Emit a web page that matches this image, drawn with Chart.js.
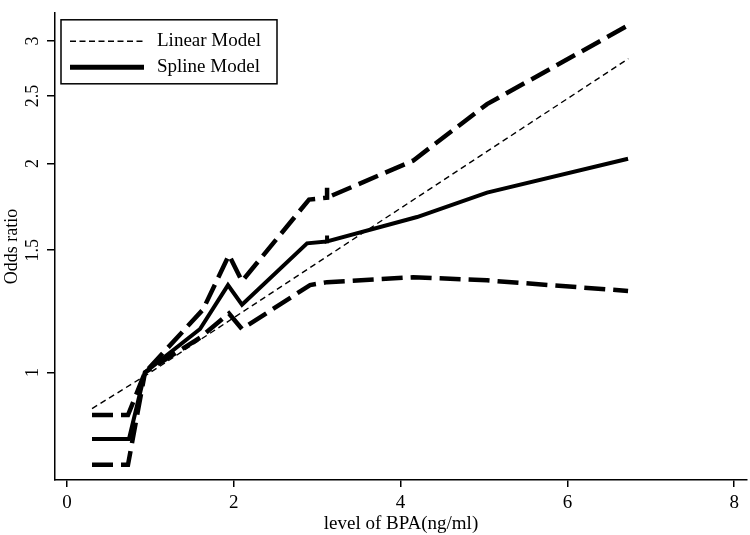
<!DOCTYPE html>
<html>
<head>
<meta charset="utf-8">
<script src="https://cdn.jsdelivr.net/npm/chart.js@4/dist/chart.umd.min.js"></script>
<style>
  html, body { margin: 0; padding: 0; background: #fff; }
  #wrap { width: 750px; height: 535px; position: relative; }
</style>
</head>
<body>
<div id="wrap"><canvas id="c" width="750" height="535"></canvas></div>
<script>
// ---- data ----
const xTicks = [0, 2, 4, 6, 8];
const yTicks = [1, 1.5, 2, 2.5, 3];

const linearX  = [0.30, 1.00, 6.73];
const linearOR = [0.887, 1.000, 2.83];

const splineX  = [0.30, 0.743, 0.935, 1.595, 1.930, 2.098, 2.878, 3.118, 3.118, 3.118, 4.197, 5.036, 6.727];
const splineOR = [0.802, 0.802, 1.000, 1.155, 1.336, 1.252, 1.534, 1.544, 1.574, 1.544, 1.674, 1.815, 2.031];

const upperX   = [0.30, 0.731, 0.935, 1.631, 1.942, 2.098, 2.902, 3.118, 3.118, 3.118, 4.149, 5.036, 6.727];
const upperOR  = [0.868, 0.868, 1.000, 1.232, 1.476, 1.353, 1.774, 1.785, 1.844, 1.785, 2.018, 2.434, 3.160];

const lowerX   = [0.30, 0.731, 0.935, 1.595, 1.942, 2.098, 2.914, 3.118, 4.149, 5.036, 6.727];
const lowerOR  = [0.736, 0.736, 1.000, 1.122, 1.216, 1.155, 1.336, 1.349, 1.371, 1.357, 1.310];

const legendLabels = ['Linear Model', 'Spline Model'];
const xTitle = 'level of BPA(ng/ml)';
const yTitle = 'Odds ratio';

const pts = (xs, ys) => xs.map((x, i) => ({ x: x, y: ys[i] }));
const SERIF = "'Liberation Serif', 'Times New Roman', serif";

const legendPlugin = {
  id: 'insideLegend',
  afterDraw(chart) {
    const { ctx, chartArea } = chart;
    const L = chartArea.left + 6, T = chartArea.top + 7, W = 216, H = 64;
    ctx.save();
    ctx.strokeStyle = '#000';
    ctx.lineWidth = 1.5;
    ctx.setLineDash([]);
    ctx.strokeRect(L, T, W, H);
    // sample 1: linear (thin dashed)
    ctx.beginPath();
    ctx.setLineDash([6, 3.5]);
    ctx.lineWidth = 1.4;
    ctx.moveTo(L + 9, T + 21.5);
    ctx.lineTo(L + 83, T + 21.5);
    ctx.stroke();
    // sample 2: spline (thick solid)
    ctx.beginPath();
    ctx.setLineDash([]);
    ctx.lineWidth = 5;
    ctx.moveTo(L + 9, T + 47.5);
    ctx.lineTo(L + 83, T + 47.5);
    ctx.stroke();
    ctx.fillStyle = '#000';
    ctx.font = '19px ' + SERIF;
    ctx.textBaseline = 'middle';
    ctx.textAlign = 'left';
    ctx.fillText(legendLabels[0], L + 96, T + 21.5);
    ctx.fillText(legendLabels[1], L + 96, T + 47.5);
    ctx.restore();
  }
};

new Chart(document.getElementById('c'), {
  type: 'line',
  data: {
    datasets: [
      { label: 'Upper CI', data: pts(upperX, upperOR), borderColor: '#000', borderWidth: 4.5, borderDash: [21, 8], pointRadius: 0, fill: false, tension: 0 },
      { label: 'Lower CI', data: pts(lowerX, lowerOR), borderColor: '#000', borderWidth: 4.5, borderDash: [21, 8], pointRadius: 0, fill: false, tension: 0 },
      { label: legendLabels[1], data: pts(splineX, splineOR), borderColor: '#000', borderWidth: 4, pointRadius: 0, fill: false, tension: 0 },
      { label: legendLabels[0], data: pts(linearX, linearOR), borderColor: '#000', borderWidth: 1.4, borderDash: [6, 4], pointRadius: 0, fill: false, tension: 0 }
    ]
  },
  options: {
    responsive: false,
    animation: false,
    devicePixelRatio: 1,
    layout: { padding: { top: 3, right: 3, left: 0, bottom: 0 } },
    plugins: { legend: { display: false }, tooltip: { enabled: false } },
    scales: {
      x: {
        type: 'linear',
        min: -0.144, max: 8.153,
        afterBuildTicks: s => { s.ticks = xTicks.map(v => ({ value: v })); },
        afterFit: s => { s.height = 55; },
        grid: { drawOnChartArea: false, drawTicks: true, tickLength: 7, color: '#000', lineWidth: 1.5 },
        border: { display: true, color: '#000', width: 1.5 },
        ticks: { color: '#000', font: { family: SERIF, size: 19 }, padding: 5, maxRotation: 0, callback: v => String(v) },
        title: { display: true, text: xTitle, color: '#000', font: { family: SERIF, size: 19 }, padding: { top: 0, bottom: 0 } }
      },
      y: {
        type: 'logarithmic',
        min: 0.7075, max: 3.295,
        afterBuildTicks: s => { s.ticks = yTicks.map(v => ({ value: v })); },
        afterFit: s => { s.width = 55; },
        grid: { drawOnChartArea: false, drawTicks: true, tickLength: 8, color: '#000', lineWidth: 1.5 },
        border: { display: true, color: '#000', width: 1.5 },
        ticks: { color: '#000', font: { family: SERIF, size: 18 }, padding: 2, minRotation: 90, maxRotation: 90, crossAlign: 'center', callback: v => String(v) },
        title: { display: true, text: yTitle, color: '#000', font: { family: SERIF, size: 18 }, padding: { top: 1, bottom: 0 } }
      }
    }
  },
  plugins: [legendPlugin]
});
</script>
</body>
</html>
